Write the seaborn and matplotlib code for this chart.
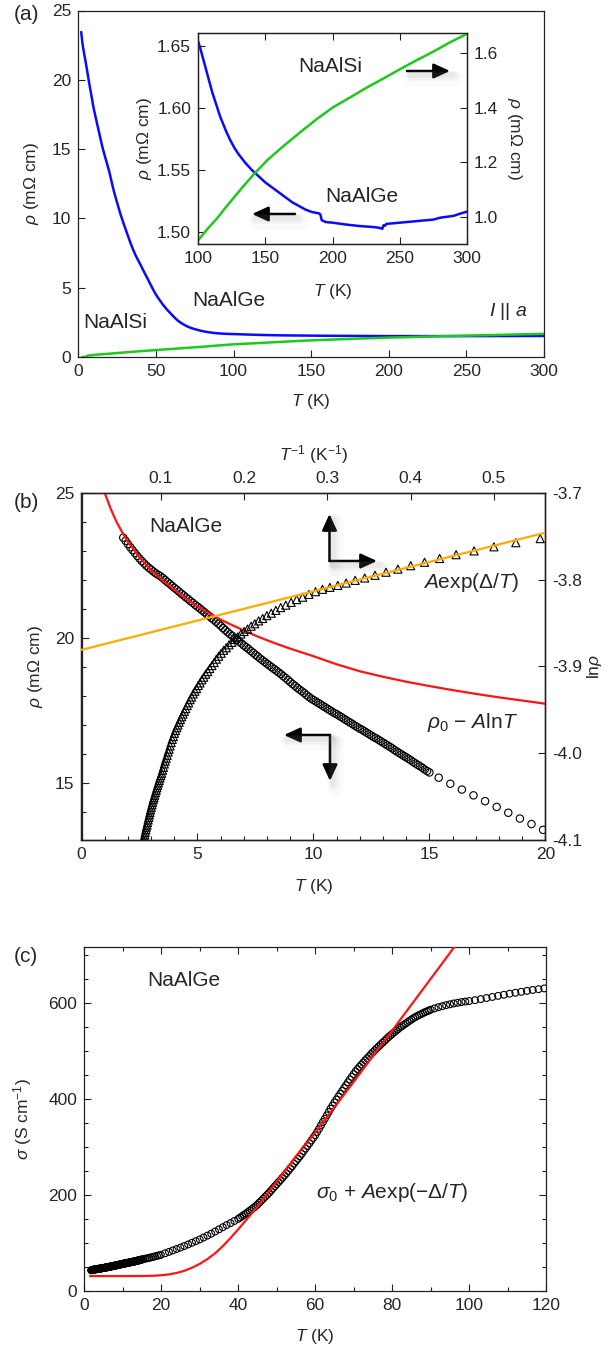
import numpy as np
import pandas as pd
import seaborn as sns
import matplotlib.pyplot as plt
from matplotlib.lines import Line2D
from matplotlib.ticker import MultipleLocator

sns.set_style("ticks")
plt.rcParams['font.family'] = ['Liberation Sans', 'DejaVu Sans']
plt.rcParams['mathtext.fontset'] = 'custom'
plt.rcParams['mathtext.rm'] = 'Liberation Sans'
plt.rcParams['mathtext.it'] = 'Liberation Sans:italic'
plt.rcParams['mathtext.bf'] = 'Liberation Sans:bold'
plt.rcParams['axes.unicode_minus'] = False

# ---- NaAlGe resistivity (mOhm cm) ----
T_low = [1.8, 1.9,
         2.0, 2.1, 2.2, 2.3, 2.4, 2.5, 2.6, 2.7, 2.8, 2.9,
         3.0, 3.1, 3.2, 3.3, 3.4, 3.5, 3.6, 3.7, 3.8, 3.9,
         4.0, 4.1, 4.2, 4.3, 4.4, 4.5, 4.6, 4.7, 4.8, 4.9,
         5.0, 5.1, 5.2, 5.3, 5.4, 5.5, 5.6, 5.7, 5.8, 5.9,
         6.0, 6.1, 6.2, 6.3, 6.4, 6.5, 6.6, 6.7, 6.8, 6.9,
         7.0, 7.1, 7.2, 7.3, 7.4, 7.5, 7.6, 7.7, 7.8, 7.9,
         8.0, 8.1, 8.2, 8.3, 8.4, 8.5, 8.6, 8.7, 8.8, 8.9,
         9.0, 9.1, 9.2, 9.3, 9.4, 9.5, 9.6, 9.7, 9.8, 9.9,
         10.0, 10.1, 10.2, 10.3, 10.4, 10.5, 10.6, 10.7, 10.8, 10.9,
         11.0, 11.1, 11.2, 11.3, 11.4, 11.5, 11.6, 11.7, 11.8, 11.9,
         12.0, 12.1, 12.2, 12.3, 12.4, 12.5, 12.6, 12.7, 12.8, 12.9,
         13.0, 13.1, 13.2, 13.3, 13.4, 13.5, 13.6, 13.7, 13.8, 13.9,
         14.0, 14.1, 14.2, 14.3, 14.4, 14.5, 14.6, 14.7, 14.8, 14.9,
         15.0]
rho_low = [23.45, 23.34,
           23.23, 23.12, 23.02, 22.92, 22.82, 22.73, 22.64, 22.56, 22.48, 22.41,
           22.35, 22.28, 22.22, 22.17, 22.12, 22.06, 21.99, 21.92, 21.86, 21.79,
           21.72, 21.66, 21.59, 21.52, 21.46, 21.39, 21.33, 21.26, 21.20, 21.13,
           21.07, 21.01, 20.94, 20.88, 20.81, 20.75, 20.68, 20.62, 20.55, 20.48,
           20.41, 20.33, 20.26, 20.19, 20.12, 20.06, 19.99, 19.93, 19.86, 19.80,
           19.73, 19.67, 19.61, 19.54, 19.48, 19.41, 19.35, 19.28, 19.22, 19.16,
           19.10, 19.04, 18.98, 18.92, 18.86, 18.80, 18.74, 18.67, 18.61, 18.54,
           18.47, 18.40, 18.34, 18.27, 18.21, 18.15, 18.09, 18.02, 17.96, 17.90,
           17.85, 17.80, 17.75, 17.70, 17.65, 17.60, 17.55, 17.50, 17.45, 17.40,
           17.36, 17.31, 17.26, 17.21, 17.16, 17.11, 17.06, 17.01, 16.96, 16.91,
           16.86, 16.82, 16.77, 16.72, 16.67, 16.62, 16.57, 16.53, 16.48, 16.43,
           16.38, 16.33, 16.28, 16.23, 16.18, 16.12, 16.07, 16.02, 15.97, 15.92,
           15.87, 15.82, 15.77, 15.71, 15.66, 15.61, 15.56, 15.51, 15.45, 15.40,
           15.35]

T_sparse = [15.4, 15.9, 16.4, 16.9, 17.4, 17.9, 18.4, 18.9, 19.4, 19.9]
rho_sparse = [15.17, 14.96, 14.76, 14.56, 14.36, 14.16, 13.96, 13.76, 13.57, 13.37]

T_mid = [21, 22, 23, 24, 25, 26, 27, 28, 29, 30,
         31, 32, 33, 34, 35, 36, 37, 38, 39, 40,
         40.5, 41, 41.5, 42, 42.5, 43, 43.5, 44, 44.5, 45,
         45.5, 46, 46.5, 47, 47.5, 48, 48.5, 49, 49.5, 50,
         50.5, 51, 51.5, 52, 52.5, 53, 53.5, 54, 54.5, 55,
         55.5, 56, 56.5, 57, 57.5, 58, 58.5, 59, 59.5, 60,
         60.5, 61, 61.5, 62, 62.5, 63, 63.5, 64, 64.5, 65,
         65.5, 66, 66.5, 67, 67.5, 68, 68.5, 69, 69.5, 70,
         70.5, 71, 71.5, 72, 72.5, 73, 73.5, 74, 74.5, 75,
         75.5, 76, 76.5, 77, 77.5, 78, 78.5, 79, 79.5, 80,
         80.5, 81, 81.5, 82, 82.5, 83, 83.5, 84, 84.5, 85,
         85.5, 86, 86.5, 87, 87.5, 88, 88.5, 89, 89.5, 90,
         91, 92, 93, 94, 95, 96, 97, 98, 99, 100]
rho_mid = [12.82, 12.35, 11.90, 11.49, 11.11, 10.72, 10.35, 10.00, 9.67, 9.35,
           9.01, 8.70, 8.40, 8.10, 7.81, 7.55, 7.30, 7.09, 6.87, 6.67,
           6.55, 6.43, 6.32, 6.21, 6.10, 5.99, 5.88, 5.78, 5.67, 5.56,
           5.44, 5.32, 5.21, 5.10, 5.00, 4.90, 4.79, 4.69, 4.59, 4.50,
           4.41, 4.33, 4.24, 4.16, 4.08, 4.00, 3.92, 3.85, 3.77, 3.70,
           3.63, 3.565, 3.50, 3.43, 3.37, 3.31, 3.25, 3.19, 3.135, 3.08,
           3.018, 2.959, 2.899, 2.841, 2.786, 2.732, 2.681, 2.632, 2.588, 2.545,
           2.507, 2.469, 2.433, 2.398, 2.364, 2.331, 2.299, 2.268, 2.240, 2.212,
           2.185, 2.162, 2.14, 2.119, 2.099, 2.079, 2.061, 2.043, 2.025, 2.008,
           1.992, 1.976, 1.961, 1.946, 1.932, 1.918, 1.904, 1.890, 1.878, 1.866,
           1.854, 1.843, 1.832, 1.821, 1.811, 1.802, 1.793, 1.784, 1.775, 1.767,
           1.758, 1.751, 1.744, 1.738, 1.732, 1.726, 1.720, 1.715, 1.710, 1.705,
           1.697, 1.690, 1.684, 1.678, 1.673, 1.668, 1.664, 1.660, 1.657, 1.654]

T_hi = [101.5, 103, 104.5, 106, 107.5, 109, 110.5, 112, 113.5, 115, 116.5, 118, 119.5]
rho_hi = [1.649, 1.643, 1.637, 1.631, 1.625, 1.619, 1.613, 1.608, 1.603, 1.598, 1.593, 1.589, 1.585]

T_top = [121, 124, 127, 130, 135, 140, 145, 150, 155, 160, 165, 170, 175, 180, 185,
         190, 191, 192, 195, 200, 210, 220, 230, 234, 236, 237, 238, 239, 240, 245,
         250, 260, 270, 275, 280, 290, 295, 300]
rho_top = [1.581, 1.574, 1.568, 1.563, 1.556, 1.550, 1.545, 1.540, 1.536, 1.532, 1.528, 1.524, 1.521, 1.518, 1.516,
           1.515, 1.514, 1.5095, 1.508, 1.5075, 1.506, 1.5048, 1.504, 1.5035, 1.503, 1.5025, 1.5055, 1.505, 1.5065, 1.507,
           1.5075, 1.5085, 1.5095, 1.510, 1.5115, 1.513, 1.5148, 1.5164]

# ---- NaAlSi resistivity (mOhm cm) ----
T_si = [2.5, 5, 6, 10, 20, 30, 40, 50, 60, 70, 80, 90, 100, 107, 114, 120, 126, 134, 142, 152, 163, 176, 185,
        188, 200, 213, 225, 238, 250, 262, 275, 287, 300]
rho_si = [0.0, 0.02, 0.10, 0.15, 0.24, 0.33, 0.42, 0.50, 0.58, 0.66, 0.74, 0.83, 0.914, 0.956, 0.994, 1.031,
          1.067, 1.114, 1.159, 1.210, 1.257, 1.31, 1.345, 1.357, 1.40, 1.437, 1.472, 1.507, 1.540, 1.572,
          1.605, 1.638, 1.670]

# ---- fits ----
T_fit_b = [1.0, 1.25, 1.5, 1.75, 2.0, 2.5, 3.0, 3.5, 4.0, 4.5, 5.0, 5.5, 6.0, 6.5, 7.0, 7.5, 8.0,
           8.5, 9.0, 9.5, 10.0, 11.0, 12.0, 13.0, 14.0, 15.0, 16.0, 17.0, 18.0, 19.0, 20.0]
rho_fit_b = [25.0, 24.46, 24.01, 23.64, 23.31, 22.77, 22.33, 21.97, 21.65, 21.35, 21.08, 20.84, 20.62,
             20.43, 20.25, 20.07, 19.91, 19.76, 19.62, 19.49, 19.36, 19.08, 18.84, 18.65, 18.48, 18.33,
             18.19, 18.06, 17.94, 17.83, 17.72]

invT_fit = [0.0047, 0.5618]
lnrho_fit = [-3.881, -3.746]

T_fit_c = [1.5, 5, 10, 15, 18, 20, 22, 24, 26, 28, 30, 32, 34, 36, 38, 40, 42, 44, 45, 50, 55, 60,
           65, 70, 75, 80, 85, 90, 95, 97]
sigma_fit_c = [30.5, 30.5, 30.5, 30.7, 31.2, 32.3, 34, 37, 41.5, 48, 56, 66, 78, 93, 110, 128, 147, 166,
               175, 228, 280, 330, 383, 436, 490, 543, 597, 651, 705, 727]

nage = pd.DataFrame({'T': T_low + T_sparse + T_mid + T_hi + T_top,
                     'rho': rho_low + rho_sparse + rho_mid + rho_hi + rho_top})
nage['sigma'] = 1000 / nage['rho']
nage['invT'] = 1 / nage['T']
nage['lnrho'] = np.log(nage['rho'] / 1000)
nasi = pd.DataFrame({'T': T_si, 'rho': rho_si})
dat_b = nage[nage['T'] <= 20]
dat_c = nage[nage['T'] <= 120]

BLUE = '#0a0aff'
GREEN = '#1ec81e'
RED = '#ff1414'
ORANGE = '#ffaa00'
TICK = 12.5
LAB = 12.5
ANN = 15

W, H = 608, 1347
fig = plt.figure(figsize=(W / 100, H / 100), dpi=100)


def fx(px):
    return px / W


def fy(py):
    return 1 - py / H


def rect(l, t, r, b):
    return [fx(l), fy(b), (r - l) / W, (b - t) / H]


def style(ax, sides=('left', 'bottom')):
    for s in ax.spines.values():
        s.set_linewidth(0.9)
        s.set_color('#222222')
    ax.tick_params(which='both', direction='in', labelsize=TICK, width=0.8, color='#222222',
                   left='left' in sides, right='right' in sides,
                   top='top' in sides, bottom='bottom' in sides)
    ax.tick_params(which='major', length=5, pad=5)
    ax.tick_params(which='minor', length=3)


def arrow(ax, x0, y0, x1, y1):
    # soft drop shadow, then the black arrow
    for dx, dy, a, w in [(5, 7, 0.04, 11), (4, 5, 0.06, 7), (3, 4, 0.08, 4)]:
        fig.add_artist(Line2D([fx(x0 + dx), fx(x1 + dx)], [fy(y0 + dy), fy(y1 + dy)],
                              transform=fig.transFigure, color='gray', alpha=a, lw=w,
                              solid_capstyle='round'))
    ax.annotate('', xy=(fx(x1), fy(y1)), xytext=(fx(x0), fy(y0)), xycoords='figure fraction',
                arrowprops=dict(arrowstyle='-|>,head_length=0.7,head_width=0.32', color='k',
                                lw=1.8, shrinkA=0, shrinkB=0, mutation_scale=14))


# ================= (a) =================
ax_a = fig.add_axes(rect(78.4, 10.5, 544, 357))
sns.lineplot(data=nage, x='T', y='rho', ax=ax_a, color=BLUE, lw=1.8, estimator=None)
sns.lineplot(data=nasi, x='T', y='rho', ax=ax_a, color=GREEN, lw=1.8, estimator=None)
ax_a.set_xlim(0, 300)
ax_a.set_ylim(0, 25)
ax_a.set_xticks([0, 50, 100, 150, 200, 250, 300])
ax_a.set_yticks([0, 5, 10, 15, 20, 25])
style(ax_a)
ax_a.set_xlabel(r'$T$ (K)', fontsize=LAB)
ax_a.set_ylabel(r'$\rho$ (mΩ cm)', fontsize=LAB)
ax_a.xaxis.set_label_coords(0.5, -0.101)
ax_a.yaxis.set_label_coords(-0.080, 0.5)
fig.text(fx(83), fy(323), 'NaAlSi', fontsize=ANN, va='center')
fig.text(fx(192), fy(300), 'NaAlGe', fontsize=ANN, va='center')
fig.text(fx(489), fy(312), r'$I$ || $a$', fontsize=ANN - 1, va='center')
fig.text(fx(14), fy(15), '(a)', fontsize=ANN, va='center')

# inset
ax_in = fig.add_axes(rect(198, 33, 467, 244))
ax_in.set_facecolor('white')
sns.lineplot(data=nage, x='T', y='rho', ax=ax_in, color=BLUE, lw=1.8, estimator=None)
ax_in.set_xlim(100, 300)
ax_in.set_ylim(1.4903, 1.6605)
ax_in.set_xticks([100, 150, 200, 250, 300])
ax_in.set_yticks([1.50, 1.55, 1.60, 1.65])
ax_in.set_yticklabels(['1.50', '1.55', '1.60', '1.65'])
ax_in2 = ax_in.twinx()
sns.lineplot(data=nasi, x='T', y='rho', ax=ax_in2, color=GREEN, lw=1.8, estimator=None)
ax_in2.set_ylim(0.901, 1.673)
ax_in2.set_yticks([1.0, 1.2, 1.4, 1.6])
style(ax_in, ('left', 'bottom', 'top'))
style(ax_in2, ('right',))
ax_in.set_xlabel(r'$T$ (K)', fontsize=LAB)
ax_in.set_ylabel(r'$\rho$ (mΩ cm)', fontsize=LAB)
ax_in2.set_ylabel(r'$\rho$ (mΩ cm)', fontsize=LAB, rotation=270)
ax_in.xaxis.set_label_coords(0.5, -0.18)
ax_in.yaxis.set_label_coords(-0.165, 0.5)
ax_in2.yaxis.set_label_coords(1.212, 0.5)
fig.text(fx(298), fy(67), 'NaAlSi', fontsize=ANN, va='center')
fig.text(fx(325), fy(197), 'NaAlGe', fontsize=ANN, va='center')
arrow(ax_in, 295, 214, 252, 214)
arrow(ax_in, 407, 71, 450, 71)

# ================= (b) =================
ax_b = fig.add_axes(rect(81.5, 492.7, 545.4, 840))
sns.lineplot(x=T_fit_b, y=rho_fit_b, ax=ax_b, color=RED, lw=1.6, estimator=None, zorder=3)
sns.scatterplot(data=dat_b, x='T', y='rho', ax=ax_b, marker='o', s=28, facecolors='none',
                edgecolors='k', linewidths=0.8, legend=False, zorder=2)
ax_b.set_xlim(0, 20)
ax_b.set_ylim(13.02, 25)
ax_b.set_xticks([0, 5, 10, 15, 20])
ax_b.set_yticks([15, 20, 25])
ax_b.xaxis.set_minor_locator(MultipleLocator(1))
ax_b.yaxis.set_minor_locator(MultipleLocator(1))
ax_r = ax_b.twinx()
ax_t = ax_r.twiny()
sns.lineplot(x=invT_fit, y=lnrho_fit, ax=ax_t, color=ORANGE, lw=1.6, estimator=None, zorder=3)
sns.scatterplot(data=dat_b, x='invT', y='lnrho', ax=ax_t, marker='^', s=34, facecolors='none',
                edgecolors='k', linewidths=0.8, legend=False, zorder=2)
ax_r.set_ylim(-4.1, -3.7)
ax_r.set_yticks([-4.1, -4.0, -3.9, -3.8, -3.7])
ax_r.set_yticklabels(['-4.1', '-4.0', '-3.9', '-3.8', '-3.7'])
ax_t.set_xlim(0.0047, 0.5618)
ax_t.set_xticks([0.1, 0.2, 0.3, 0.4, 0.5])
ax_t.set_xticklabels(['0.1', '0.2', '0.3', '0.4', '0.5'])
style(ax_b)
style(ax_r, ('right',))
style(ax_t, ('top',))
ax_b.set_xlabel(r'$T$ (K)', fontsize=LAB)
ax_b.set_ylabel(r'$\rho$ (mΩ cm)', fontsize=LAB)
ax_r.set_ylabel(r'ln$\rho$', fontsize=LAB, rotation=90)
ax_t.set_xlabel(r'$T^{-1}$ (K$^{-1}$)', fontsize=LAB)
ax_b.xaxis.set_label_coords(0.5, -0.1065)
ax_b.yaxis.set_label_coords(-0.0787, 0.5)
ax_r.yaxis.set_label_coords(1.086, 0.5)
ax_t.xaxis.set_label_coords(0.5, 1.094)
fig.text(fx(149.5), fy(527), 'NaAlGe', fontsize=ANN, va='center')
fig.text(fx(423), fy(583), r'$A$exp($\mathit{\Delta}$/$T$)', fontsize=ANN, va='center')
fig.text(fx(427), fy(723), r'$\rho_0$ − $A$ln$T$', fontsize=ANN, va='center')
fig.text(fx(14), fy(502), '(b)', fontsize=ANN, va='center')
arrow(ax_b, 329.5, 561, 329.5, 514)
arrow(ax_b, 329.5, 561, 377, 561)
arrow(ax_b, 330, 735, 284, 735)
arrow(ax_b, 330, 735, 330, 781)

# ================= (c) =================
ax_c = fig.add_axes(rect(84.2, 946.7, 546.2, 1290.7))
sns.scatterplot(data=dat_c, x='T', y='sigma', ax=ax_c, marker='o', s=24, facecolors='none',
                edgecolors='k', linewidths=0.8, legend=False, zorder=2)
sns.lineplot(x=T_fit_c, y=sigma_fit_c, ax=ax_c, color=RED, lw=1.6, estimator=None, zorder=3)
ax_c.set_xlim(0, 120)
ax_c.set_ylim(0, 718)
ax_c.set_xticks([0, 20, 40, 60, 80, 100, 120])
ax_c.set_yticks([0, 200, 400, 600])
ax_c.xaxis.set_minor_locator(MultipleLocator(10))
ax_c.yaxis.set_minor_locator(MultipleLocator(50))
style(ax_c, ('left', 'bottom', 'top', 'right'))
ax_c.set_xlabel(r'$T$ (K)', fontsize=LAB)
ax_c.set_ylabel(r'$\sigma$ (S cm$^{-1}$)', fontsize=LAB)
ax_c.xaxis.set_label_coords(0.5, -0.1055)
ax_c.yaxis.set_label_coords(-0.109, 0.5)
fig.text(fx(147.5), fy(980), 'NaAlGe', fontsize=ANN, va='center')
fig.text(fx(316), fy(1193), r'$\sigma_0$ + $A$exp(−$\mathit{\Delta}$/$T$)', fontsize=ANN, va='center')
fig.text(fx(14), fy(957), '(c)', fontsize=ANN, va='center')

fig.savefig('out.png', dpi=100)
